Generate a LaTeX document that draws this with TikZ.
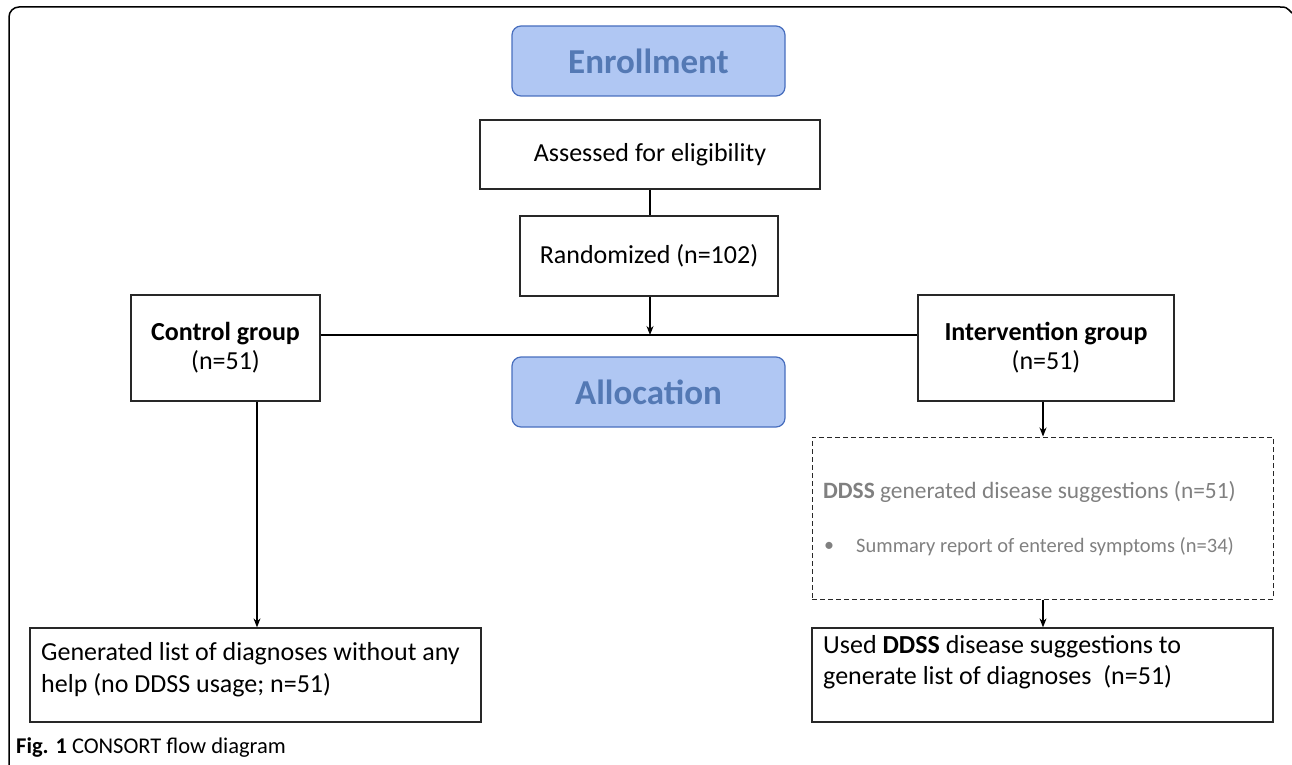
\documentclass[tikz,border=0pt]{standalone}
\usepackage{fontspec}
\setmainfont{Carlito}
\usetikzlibrary{arrows.meta,positioning}
\definecolor{phasefill}{RGB}{176,199,243}
\definecolor{phasedraw}{RGB}{72,110,190}
\definecolor{phasetext}{RGB}{84,121,180}
\definecolor{boxline}{RGB}{40,40,40}
\definecolor{greytext}{RGB}{128,128,128}
\tikzset{
  phase/.style={draw=phasedraw, fill=phasefill, rounded corners=9pt, line width=1.2pt,
    minimum width=273pt, minimum height=70pt, inner sep=0pt,
    font=\fontsize{35}{40}\selectfont\bfseries, text=phasetext},
  flowbox/.style={draw=boxline, line width=1.3pt, inner sep=0pt, align=center,
    font=\fontsize{26}{30}\selectfont},
  linetext/.style={anchor=base west, inner sep=0pt, font=\fontsize{26}{30}\selectfont},
  conn/.style={draw=black, line width=1.1pt},
  arr/.style={conn, -{Stealth[length=9pt,width=7pt]}},
}
\begin{document}
\begin{tikzpicture}[x=1pt,y=-1pt]
\useasboundingbox (0,0) rectangle (1292,765);
% outer frame
\draw[line width=1.5pt, rounded corners=10pt] (9,770) -- (9,7) -- (1280,7);
\draw[line width=1.5pt] (1280,7) .. controls (1286,7) .. (1292,13);

\node[phase] (enr) at (648.5,61) {Enrollment};
\node[flowbox, minimum width=340pt, minimum height=69pt] (ass) at (650,154.5) {Assessed for eligibility};
\node[flowbox, minimum width=258pt, minimum height=80pt] (ran) at (649,256) {Randomized (n=102)};
\node[flowbox, minimum width=189pt, minimum height=106pt, font=\fontsize{26}{29}\selectfont] (ctl) at (225.5,348) {\textbf{Control group}\\(n=51)};
\node[flowbox, minimum width=256pt, minimum height=106pt, font=\fontsize{26}{29}\selectfont] (int) at (1046,348) {\textbf{Intervention group}\\(n=51)};
\node[phase] (all) at (648.5,392) {Allocation};

\node[draw=boxline, line width=1pt, dashed, dash pattern=on 5pt off 3pt, minimum width=461pt, minimum height=162pt, inner sep=0pt] (dd) at (1042.5,518) {};
\node[anchor=west, text=greytext, font=\fontsize{23.4}{26}\selectfont, inner sep=0pt] (ddt) at (823,492) {\textbf{DDSS} generated disease suggestions (n=51)};
\node[anchor=west, text=greytext, font=\fontsize{20}{22}\selectfont, inner sep=0pt] (bul) at (824,547) {•};
\node[anchor=west, text=greytext, font=\fontsize{20.5}{22}\selectfont, inner sep=0pt] (sum) at (856,547) {Summary report of entered symptoms (n=34)};

\node[flowbox, minimum width=451pt, minimum height=94pt] (gen) at (255.5,675) {};
\node[linetext] (gen1) at (41,660) {Generated list of diagnoses without any};
\node[linetext] (gen2) at (41,692) {help (no DDSS usage; n=51)};
\node[flowbox, minimum width=461pt, minimum height=94pt] (used) at (1042.5,675) {};
\node[linetext] (used1) at (823,653) {Used \textbf{DDSS} disease suggestions to};
\node[linetext] (used2) at (823,684) {generate list of diagnoses\ \ (n=51)};

\node[anchor=west, inner sep=0pt, font=\fontsize{22.5}{24}\selectfont] (cap) at (16,748) {\textbf{Fig. 1} CONSORT flow diagram};

% connectors
\coordinate (hl) at (650,335);
\draw[conn] (ass.south) -- (ran.north -| ass.south);
\draw[arr] (ran.south -| hl) -- (hl);
\draw[conn] (ctl.east |- hl) -- (int.west |- hl);
\draw[arr] (ctl.south -| 257,0) -- (gen.north -| 257,0);
\draw[arr] (int.south -| 1043,0) -- (dd.north -| 1043,0);
\draw[arr] (dd.south -| 1043,0) -- (used.north -| 1043,0);
\end{tikzpicture}
\end{document}
